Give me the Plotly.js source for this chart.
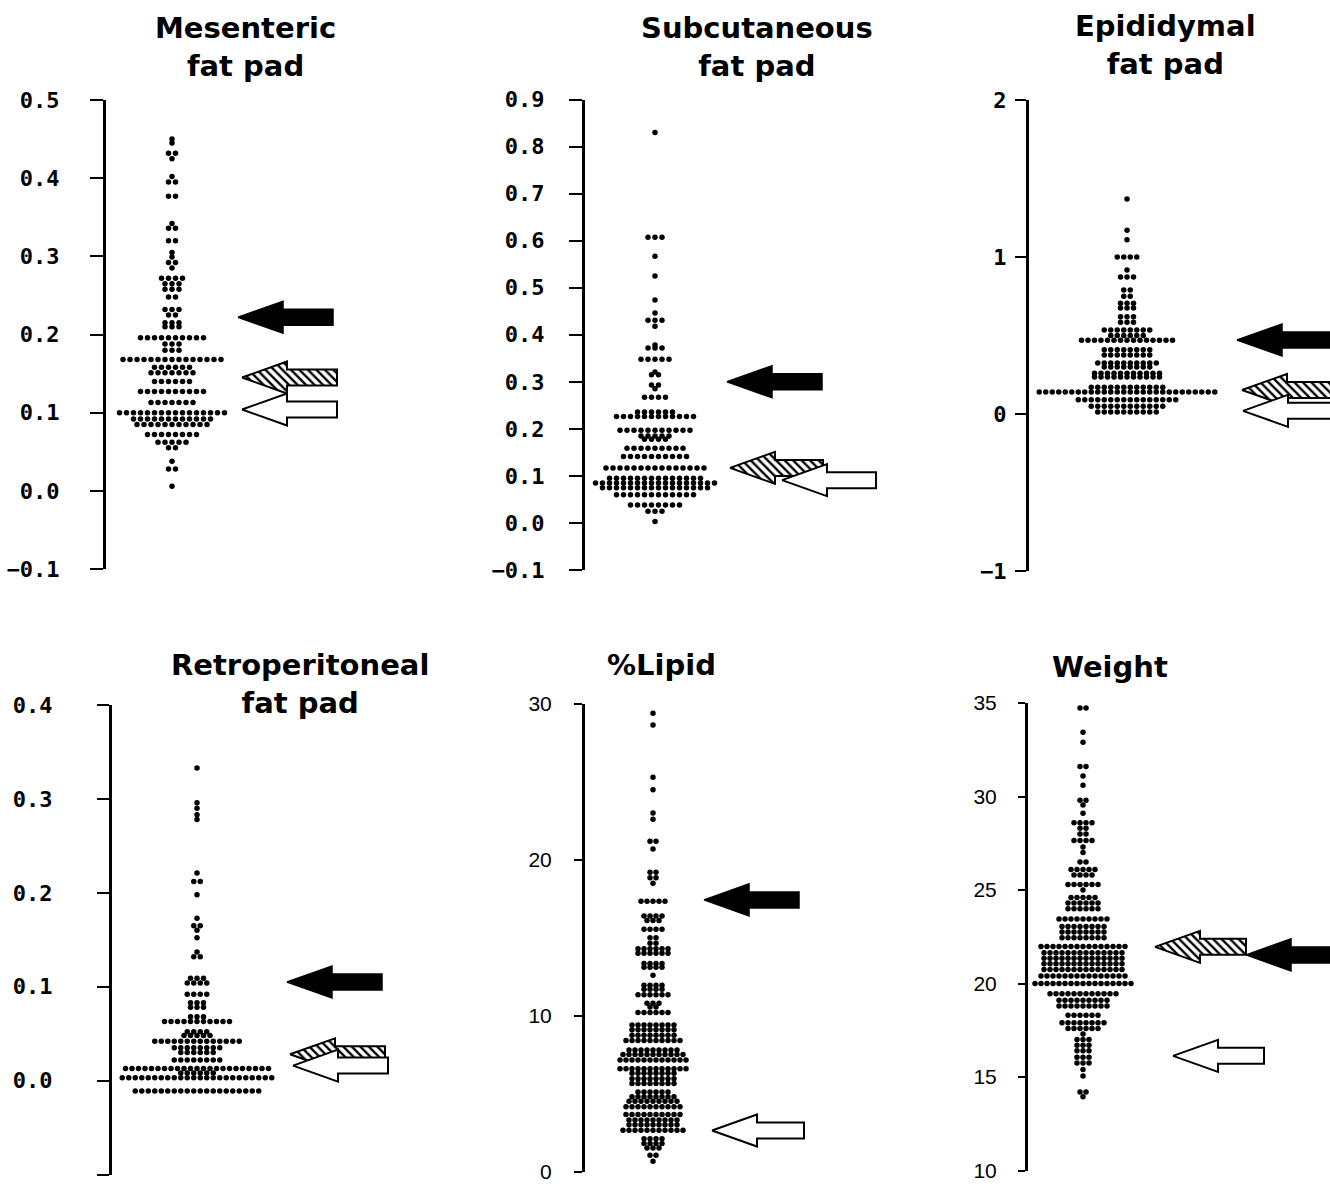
<!DOCTYPE html>
<html><head><meta charset="utf-8">
<script src="https://cdn.plot.ly/plotly-3.0.1.min.js"></script>
<style>html,body{margin:0;padding:0;background:#fff}#chart{width:1330px;height:1186px}</style>
</head><body><div id="chart"></div>
<script>
// ---------- DATA ----------
// Mesenteric fat pad
const mesVals   = [0.450,0.445,0.432,0.425,0.402,0.395,0.377,0.342,0.336,0.320,0.305,0.299,0.292,0.285,0.272,0.265,0.258,0.248,0.232,0.225,0.215,0.210,0.196,0.188,0.180,0.168,0.158,0.151,0.140,0.127,0.113,0.100,0.092,0.085,0.072,0.062,0.055,0.038,0.028,0.006];
const mesCounts = [1,1,2,1,1,2,2,1,2,2,1,1,2,1,4,3,3,2,3,2,3,3,10,3,3,15,6,7,6,10,7,16,12,11,8,5,2,1,2,1];
const mesArrows = [0.222, 0.145, 0.104];           // black, hatched, white
const mesTickVals = [-0.1,0,0.1,0.2,0.3,0.4,0.5];
const mesTickText = ["\u22120.1","0.0","0.1","0.2","0.3","0.4","0.5"];

// Subcutaneous fat pad
const subVals   = [0.830,0.607,0.567,0.525,0.474,0.446,0.431,0.418,0.378,0.372,0.348,0.321,0.315,0.293,0.285,0.267,0.236,0.226,0.197,0.185,0.178,0.159,0.141,0.117,0.095,0.085,0.075,0.060,0.038,0.025,0.003];
const subCounts = [1,3,1,1,1,1,3,1,1,3,5,1,2,2,1,4,6,12,11,5,4,9,10,15,14,18,16,12,8,3,1];
const subArrows = [0.300, 0.117, 0.091];
const subTickVals = [-0.1,0,0.1,0.2,0.3,0.4,0.5,0.6,0.7,0.8,0.9];
const subTickText = ["\u22120.1","0.0","0.1","0.2","0.3","0.4","0.5","0.6","0.7","0.8","0.9"];

// Epididymal fat pad
const epiVals   = [1.37,1.17,1.11,1.00,0.917,0.873,0.79,0.75,0.705,0.675,0.62,0.585,0.535,0.50,0.47,0.41,0.375,0.325,0.30,0.26,0.235,0.17,0.14,0.09,0.05,0.013];
const epiCounts = [1,1,1,4,1,3,2,2,3,3,3,3,8,6,15,8,8,10,8,11,11,12,28,16,12,10];
const epiArrows = [0.471, 0.153, 0.020];
const epiTickVals = [-1,0,1,2];
const epiTickText = ["\u22121","0","1","2"];

// Retroperitoneal fat pad
const retVals   = [0.333,0.296,0.290,0.283,0.278,0.221,0.212,0.198,0.173,0.165,0.160,0.152,0.137,0.132,0.109,0.104,0.092,0.083,0.078,0.068,0.063,0.052,0.048,0.042,0.035,0.030,0.022,0.013,0.008,0.003,-0.011];
const retCounts = [1,1,1,1,1,1,2,1,1,2,1,1,1,2,3,4,4,3,3,3,11,4,5,14,8,6,8,23,6,24,20];
const retArrows = [0.105, 0.028, 0.016];
const retTickVals = [-0.1,0,0.1,0.2,0.3,0.4];
const retTickText = ["\u22120.1","0.0","0.1","0.2","0.3","0.4"];

// %Lipid
const lipVals   = [29.4,28.65,25.3,24.5,23.0,22.6,21.2,20.7,19.2,18.85,18.5,17.35,16.4,16.1,15.55,15.0,14.65,14.3,14.0,13.35,13.1,12.6,11.95,11.7,11.35,10.8,10.55,10.2,9.4,9.1,8.75,8.4,7.8,7.5,7.15,6.6,6.3,5.95,5.65,5.1,4.8,4.5,4.15,3.65,3.3,3.0,2.65,2.1,1.8,1.5,1.05,0.65];
const lipCounts = [1,1,1,1,1,1,2,1,2,2,1,5,4,3,4,2,2,6,6,4,4,1,4,4,6,3,2,6,8,8,8,10,9,11,12,12,8,8,8,6,8,9,10,10,9,9,11,4,4,3,2,1];
const lipArrows = [17.43, null, 2.63];
const lipTickVals = [0,10,20,30];
const lipTickText = ["0","10","20","30"];

// Weight
const wtVals   = [34.73,33.43,32.9,31.6,31.1,30.6,29.8,29.55,29.1,28.6,28.3,28.0,27.65,27.3,27.0,26.5,26.1,25.8,25.3,25.0,24.6,24.3,24.0,23.45,23.05,22.75,22.45,21.98,21.65,21.35,21.05,20.75,20.4,20.0,19.45,19.1,18.8,18.3,17.9,17.6,17.3,17.0,16.7,16.4,16.05,15.75,15.4,15.05,14.2,13.95];
const wtCounts = [2,1,1,2,1,1,2,1,1,4,2,2,4,1,1,2,5,4,6,1,5,6,6,9,8,8,8,15,14,14,14,14,15,17,12,9,9,6,8,6,1,3,3,3,3,3,1,1,2,1];
const wtArrows = [21.53, 21.96, 16.13];
const wtTickVals = [10,15,20,25,30,35];
const wtTickText = ["10","15","20","25","30","35"];

const titles = ["<b>Mesenteric</b><br><b>fat pad</b>","<b>Subcutaneous</b><br><b>fat pad</b>","<b>Epididymal</b><br><b>fat pad</b>",
                "<b>Retroperitoneal</b><br><b>fat pad</b>","<b>%Lipid</b>","<b>Weight</b>"];

// ---------- LAYOUT / GEOMETRY ----------
const W = 1330, H = 1186;
const monoFont = {family:"DejaVu Sans Mono", size:22, color:"#000", weight:"bold"};
const sansFont = {family:"Liberation Sans", size:21, color:"#000"};
const panels = [
  {vals:mesVals,counts:mesCounts,arrows:mesArrows,tv:mesTickVals,tt:mesTickText,range:[-0.1,0.5],ax:106,right:420,top:100,bottom:569,center:66,sp:7,tips:[132,136,136],len:[95,95,95],ticklen:13,standoff:26,font:monoFont,tx:245,ty:47},
  {vals:subVals,counts:subCounts,arrows:subArrows,tv:subTickVals,tt:subTickText,range:[-0.1,0.9],ax:585,right:900,top:99.5,bottom:570,center:70,sp:7,tips:[142,145,197],len:[95,93,94],ticklen:13,standoff:20,font:monoFont,tx:757,ty:47},
  {vals:epiVals,counts:epiCounts,arrows:epiArrows,tv:epiTickVals,tt:epiTickText,range:[-1,2],ax:1029,right:1330,top:100,bottom:571,center:98,sp:6.5,tips:[208,213,214],len:[150,150,150],ticklen:11,standoff:4,font:monoFont,tx:1165,ty:45},
  {vals:retVals,counts:retCounts,arrows:retArrows,tv:retTickVals,tt:retTickText,range:[-0.1,0.4],ax:112,right:420,top:705,bottom:1174.5,center:85,sp:6.5,tips:[175,178,181],len:[95,95,95],ticklen:12,standoff:40,font:monoFont,tx:300,ty:684},
  {vals:lipVals,counts:lipCounts,arrows:lipArrows,tv:lipTickVals,tt:lipTickText,range:[0,30],ax:585,right:900,top:704,bottom:1171.5,center:68,sp:6,tips:[119,null,127],len:[95,95,92],ticklen:8,standoff:18,font:sansFont,tx:661,ty:665},
  {vals:wtVals,counts:wtCounts,arrows:wtArrows,tv:wtTickVals,tt:wtTickText,range:[10,35],ax:1028,right:1330,top:703,bottom:1170.5,center:55,sp:6,tips:[218,127,145],len:[120,91,91],ticklen:7,standoff:17,font:sansFont,tx:1110,ty:667}
];

const traces = [];
const layout = {
  width: W, height: H, margin:{l:0,r:0,t:0,b:0},
  paper_bgcolor:"#fff", plot_bgcolor:"rgba(0,0,0,0)",
  showlegend:false, hovermode:false, annotations:[]
};

// arrow styles: index 0 black, 1 hatched, 2 white; draw hatched, white, then black
const arrowStyle = [
  {fillcolor:"#000", line:{color:"#000", width:1.5}},
  {fillcolor:"#fff", line:{color:"#000", width:2}, fillpattern:{shape:"\\", fgcolor:"#000", bgcolor:"#fff", size:6, solidity:0.4}},
  {fillcolor:"#fff", line:{color:"#000", width:2}}
];
const drawOrder = [1,2,0];

panels.forEach((p, i) => {
  const k = i + 1;
  const xa = "x" + k, ya = "y" + k;
  const span = p.range[1] - p.range[0];
  const pad = span * 1e-6;
  layout["xaxis" + k] = {
    domain:[p.ax / W, p.right / W], range:[0, p.right - p.ax], visible:false,
    fixedrange:true, anchor:ya
  };
  layout["yaxis" + k] = {
    domain:[1 - p.bottom / H, 1 - p.top / H], range:[p.range[0] - pad, p.range[1] + pad],
    tickmode:"array", tickvals:p.tv, ticktext:p.tt,
    ticks:"outside", ticklen:p.ticklen, tickwidth:2, tickcolor:"#000",
    showline:true, linewidth:3, linecolor:"#000",
    showgrid:false, zeroline:false, fixedrange:true, anchor:xa,
    tickfont:p.font, ticklabelstandoff:p.standoff
  };

  // beeswarm-style rows
  const xs = [], ys = [];
  p.vals.forEach((v, j) => {
    const n = p.counts[j];
    for (let m = 0; m < n; m++) {
      xs.push(p.center + (m - (n - 1) / 2) * p.sp);
      ys.push(v);
    }
  });
  traces.push({type:"scatter", mode:"markers", x:xs, y:ys, xaxis:xa, yaxis:ya,
    marker:{size:5.5, color:"#000"}, cliponaxis:false, hoverinfo:"skip"});

  // arrows
  const pu = (p.bottom - p.top) / span;   // px per data unit
  const hl = 45, hh = 16 / pu, bh = 8 / pu;
  drawOrder.forEach(a => {
    const v = p.arrows[a];
    if (v === null || p.tips[a] === null) return;
    const t = p.tips[a], L = p.len[a];
    const ax = [t, t + hl, t + hl, t + L, t + L, t + hl, t + hl, t];
    const ay = [v, v + hh, v + bh, v + bh, v - bh, v - bh, v - hh, v];
    traces.push(Object.assign({type:"scatter", mode:"lines", x:ax, y:ay, xaxis:xa, yaxis:ya,
      fill:"toself", hoverinfo:"skip"}, arrowStyle[a]));
  });

  layout.annotations.push({
    xref:"paper", yref:"paper", x:p.tx / W, y:1 - p.ty / H,
    xanchor:"center", yanchor:"middle", showarrow:false, align:"center",
    text:titles[i], font:{family:"DejaVu Sans", size:29, color:"#000"}
  });
});

Plotly.newPlot("chart", traces, layout, {staticPlot:true, displayModeBar:false});
</script>
</body></html>
